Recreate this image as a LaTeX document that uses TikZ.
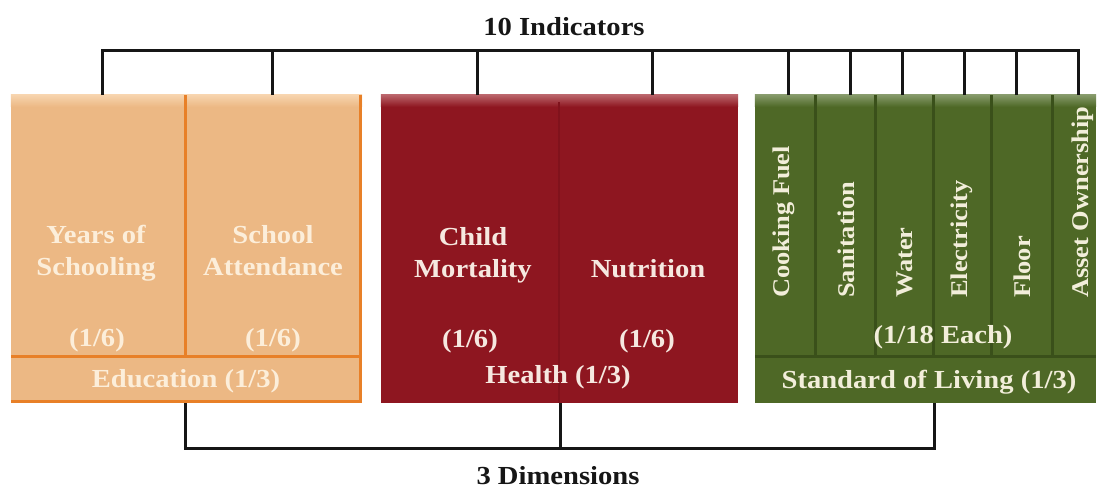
\documentclass[tikz,border=0pt]{standalone}
\usepackage{fontspec}
\setmainfont[FakeStretch=1.1]{Liberation Serif}
\usepackage{tikz}

\definecolor{edufill}{RGB}{236,184,132}
\definecolor{eduline}{RGB}{232,128,40}
\definecolor{edutop}{RGB}{247,212,174}
\definecolor{edutext}{RGB}{252,238,218}
\definecolor{healthfill}{RGB}{142,22,32}
\definecolor{healthline}{RGB}{128,18,28}
\definecolor{healthtop}{RGB}{186,100,106}
\definecolor{healthtext}{RGB}{246,232,224}
\definecolor{livingfill}{RGB}{78,104,38}
\definecolor{livingline}{RGB}{58,80,26}
\definecolor{livingtop}{RGB}{134,154,106}
\definecolor{livingtext}{RGB}{242,238,218}
\definecolor{bracketcol}{RGB}{22,22,22}

\tikzset{
  dimbox/.style={rectangle, inner sep=0pt, minimum height=308pt},
  boxtext/.style={font=\fontsize{26}{32}\selectfont\bfseries, align=center, inner sep=0pt},
  vertext/.style={font=\fontsize{24}{28}\selectfont\bfseries, rotate=90, anchor=west, inner sep=0pt},
  bracketline/.style={draw=bracketcol, line width=3pt},
}

\newcommand{\mpiweight}[4] {\node at (#1) (#2) [boxtext, anchor=base, text=#3] {#4};}
\newcommand{\mpiindicator}[4] {\node at (#1) (#2) [vertext, text=#3] {#4};}
\newcommand{\mpidrop}[2] {\draw [bracketline] (#1) -- (#1 |- #2);}

\begin{document}
\begin{tikzpicture}[x=1pt, y=-1pt]
\useasboundingbox [fill=white] (0,0) rectangle (1099,491);

% the three dimension boxes
\node at (186.5,249) (education) [dimbox, fill=edufill, minimum width=351pt] {};
\node at (559.5,249) (health) [dimbox, fill=healthfill, minimum width=357pt] {};
\node at (925.5,249) (living) [dimbox, fill=livingfill, minimum width=341pt] {};

\shade [top color=edutop, bottom color=edufill] (education.north west) rectangle ([yshift=-12pt]education.north east);
\shade [top color=healthtop, bottom color=healthfill] (health.north west) rectangle ([yshift=-12pt]health.north east);
\shade [top color=livingtop, bottom color=livingfill] (living.north west) rectangle ([yshift=-12pt]living.north east);

\draw [eduline, line width=3pt] (360.5,95) -- (360.5,401.5) -- (11,401.5);
\draw [eduline, line width=3pt] (11,356) -- (362,356) (185,95) -- (185,356);
\draw [healthline, line width=2pt] (559,102) -- (559,403);
\draw [livingline, line width=3pt] (755,356) -- (1096,356)
  (815,95) -- (815,356) (875,95) -- (875,356) (933,95) -- (933,356)
  (991,95) -- (991,356) (1052,95) -- (1052,356);

% education
\mpiweight{96,275}{schooling}{edutext}{Years of\\Schooling}
\mpiweight{273,275}{attendance}{edutext}{School\\Attendance}
\mpiweight{97,346}{schoolingw}{edutext}{(1/6)}
\mpiweight{273,346}{attendancew}{edutext}{(1/6)}
\mpiweight{186,387}{edulabel}{edutext}{Education (1/3)}

% health
\mpiweight{473,277}{mortality}{healthtext}{Child\\Mortality}
\mpiweight{648,277}{nutrition}{healthtext}{Nutrition}
\mpiweight{470,347}{mortalityw}{healthtext}{(1/6)}
\mpiweight{647,347}{nutritionw}{healthtext}{(1/6)}
\mpiweight{558,383}{healthlabel}{healthtext}{Health (1/3)}

% standard of living
\mpiindicator{784,298}{fuel}{livingtext}{Cooking Fuel}
\mpiindicator{846,298}{sanitation}{livingtext}{Sanitation}
\mpiindicator{905,298}{water}{livingtext}{Water}
\mpiindicator{962,298}{electricity}{livingtext}{Electricity}
\mpiindicator{1022,298}{floor}{livingtext}{Floor}
\mpiindicator{1083,298}{assets}{livingtext}{Asset Ownership}
\mpiweight{943,343}{livingw}{livingtext}{(1/18 Each)}
\mpiweight{929,388}{livinglabel}{livingtext}{Standard of Living (1/3)}

% brackets
\mpiweight{564,35}{indicators}{bracketcol}{10 Indicators}
\mpiweight{558,484}{dimensions}{bracketcol}{3 Dimensions}

\coordinate (topbar) at (0,50);
\coordinate (ind1) at (102,95);
\coordinate (ind2) at (272,95);
\coordinate (ind3) at (477,95);
\coordinate (ind4) at (652,95);
\coordinate (ind5) at (788,95);
\coordinate (ind6) at (850,95);
\coordinate (ind7) at (902,95);
\coordinate (ind8) at (964,95);
\coordinate (ind9) at (1016,95);
\coordinate (ind10) at (1078,95);
\draw [bracketline] (ind1) |- (ind10 |- topbar) -- (ind10);
\mpidrop{ind2}{topbar}
\mpidrop{ind3}{topbar}
\mpidrop{ind4}{topbar}
\mpidrop{ind5}{topbar}
\mpidrop{ind6}{topbar}
\mpidrop{ind7}{topbar}
\mpidrop{ind8}{topbar}
\mpidrop{ind9}{topbar}

\coordinate (dimbar) at (0,448);
\coordinate (dimE) at (185,403);
\coordinate (dimH) at (560,403);
\coordinate (dimS) at (934,403);
\draw [bracketline] (dimE) |- (dimS |- dimbar) -- (dimS);
\mpidrop{dimH}{dimbar}

\end{tikzpicture}
\end{document}
